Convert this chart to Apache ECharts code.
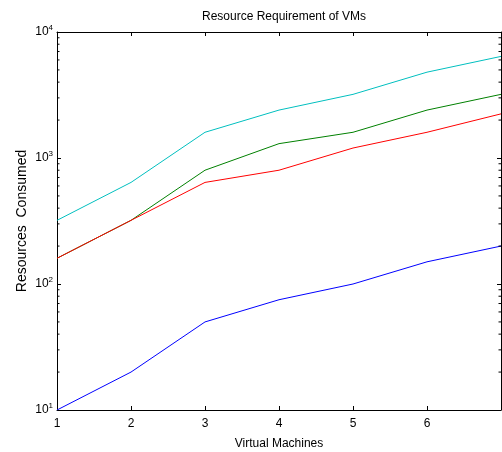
<!DOCTYPE html>
<html>
<head>
<meta charset="utf-8">
<script src="https://cdn.jsdelivr.net/npm/echarts@6/dist/echarts.min.js"></script>
<style>html,body{margin:0;padding:0;background:#fff}#c{width:502px;height:452px}</style>
</head>
<body>
<div id="c"></div>
<script>
var vms = [1, 2, 3, 4, 5, 6, 7];
var blueVals = [10, 20, 50, 75, 100, 150, 200];
var greenVals = [160, 320, 800, 1300, 1600, 2400, 3200];
var redVals = [160, 320, 640, 800, 1200, 1600, 2240];
var cyanVals = [320, 640, 1600, 2400, 3200, 4800, 6400];
var minorTickVals = [20,30,40,50,60,70,80,90,200,300,400,500,600,700,800,900,2000,3000,4000,5000,6000,7000,8000,9000];

function pairs(vals){ return vms.map(function(x,i){return [x, vals[i]];}); }

var font = 'Liberation Sans, Arial, sans-serif';
var chart = echarts.init(document.getElementById('c'));
function yFmt(v){
  var e = Math.round(Math.log10(v));
  return '{b|10}{s|' + e + '}';
}
var yRich = {
  b: {fontSize: 12, fontFamily: font, color: '#000'},
  s: {fontSize: 8, fontFamily: font, color: '#000', verticalAlign: 'top', padding: [0,0,8,0]}
};
var axisLine = {show: true, onZero: false, lineStyle: {color: '#000', width: 1}};
var tick = {show: true, inside: true, length: 4, lineStyle: {color: '#000', width: 1}};

function minorSeries(xVal, dir){
  return {
    type: 'custom', silent: true, clip: false, z: 5,
    data: minorTickVals.map(function(v){return [xVal, v];}),
    renderItem: function(params, api){
      var p = api.coord([api.value(0), api.value(1)]);
      return {type: 'line', shape: {x1: p[0], y1: p[1], x2: p[0] + dir*2.5, y2: p[1]},
              style: {stroke: '#000', lineWidth: 1}};
    }
  };
}
function line(name, vals, color){
  return {name: name, type: 'line', data: pairs(vals), symbol: 'none',
          lineStyle: {color: color, width: 1}, itemStyle: {color: color}, z: 3, animation: false};
}

chart.setOption({
  animation: false,
  title: {text: 'Resource Requirement of VMs', left: 279, textAlign: 'center', top: 6,
          textStyle: {fontSize: 12, fontWeight: 'normal', fontFamily: font, color: '#000'}},
  grid: {left: 57, right: 1, top: 32, bottom: 42, containLabel: false, outerBoundsMode: 'none'},
  xAxis: [{
    type: 'value', min: 1, max: 7, interval: 1,
    name: 'Virtual Machines', nameLocation: 'middle', nameGap: 28, nameMoveOverlap: false,
    nameTextStyle: {fontSize: 12, fontFamily: font, color: '#000'},
    axisLine: axisLine, axisTick: tick, splitLine: {show: false},
    axisLabel: {fontSize: 12, fontFamily: font, color: '#000', margin: 8, showMaxLabel: false}
  },{
    type: 'value', min: 1, max: 7, interval: 1, position: 'top',
    axisLine: axisLine, axisTick: tick, splitLine: {show: false}, axisLabel: {show: false}
  }],
  yAxis: [{
    type: 'log', logBase: 10, min: 10, max: 10000,
    name: 'Resources  Consumed', nameLocation: 'middle', nameGap: 28, nameMoveOverlap: false,
    nameTextStyle: {fontSize: 14, fontFamily: font, color: '#000'},
    axisLine: axisLine, axisTick: tick, splitLine: {show: false},
    axisLabel: {formatter: yFmt, rich: yRich, margin: 4}
  },{
    type: 'log', logBase: 10, min: 10, max: 10000, position: 'right',
    axisLine: axisLine, axisTick: tick, splitLine: {show: false}, axisLabel: {show: false}
  }],
  series: [
    line('blue', blueVals, '#0000FF'),
    line('green', greenVals, '#008000'),
    line('red', redVals, '#FF0000'),
    line('cyan', cyanVals, '#00BFBF'),
    minorSeries(1, 1),
    minorSeries(7, -1)
  ]
});
</script>
</body>
</html>
